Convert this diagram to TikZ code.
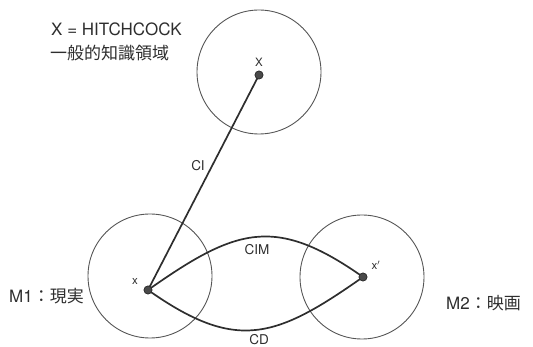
\documentclass[tikz,border=0pt]{standalone}
\usepackage{fontspec}
\setmainfont{TeX Gyre Heros}
\newfontfamily\cjk{Noto Sans CJK JP}
\definecolor{ink}{HTML}{2E2E2E}
\definecolor{ring}{HTML}{555555}
\definecolor{dotc}{HTML}{4A4A4A}
\begin{document}
\begin{tikzpicture}[x=1pt,y=-1pt,
  realm/.style={circle,draw=ring,line width=0.9pt,minimum size=124pt,inner sep=0pt},
  pt/.style={circle,fill=dotc,draw=ink,line width=0.6pt,minimum size=8pt,inner sep=0pt},
  link/.style={draw=ink,line width=1.7pt},
  biglabel/.style={text=ink,font=\fontsize{17}{20}\selectfont,inner sep=0pt},
  midlabel/.style={text=ink,font=\fontsize{13.5}{16}\selectfont,inner sep=0pt},
  smalllabel/.style={text=ink,font=\fontsize{11.5}{13}\selectfont,inner sep=0pt}]
\useasboundingbox (0,0) rectangle (533,347);
% realms
\node[realm] (C0) at (259,72) {};
\node[realm] (C1) at (150,276) {};
\node[realm] (C2) at (362,277) {};
% points
\node[pt] (X) at (259,75) {};
\node[pt] (A) at (148,290) {};
\node[pt] (B) at (363,277) {};
% connectors
\draw[link] (A.center) -- (X.center);
\draw[link] (A.center) .. controls (236,228) and (275,215) .. (B.center);
\draw[link] (A.center) .. controls (236,352) and (275,339) .. (B.center);
\node[pt] at (X) {};
\node[pt] at (A) {};
\node[pt] at (B) {};
% labels
\node[smalllabel] (lX) at (259,62) {X};
\node[smalllabel] (lA) at (135,281) {x};
\node[smalllabel] (lB) at (376,265) {x$'$};
\node[midlabel] (lCI) at (198,166) {CI};
\node[midlabel] (lCIM) at (257,250) {CIM};
\node[midlabel] (lCD) at (259,340) {CD};
\node[biglabel,anchor=west] (t1) at (51,29) {X = HITCHCOCK};
\node[biglabel,anchor=west] (t2) at (50,53) {\cjk 一般的知識領域};
\node[biglabel,anchor=west] (m1) at (9,296) {M1\cjk ：現実};
\node[biglabel,anchor=west] (m2) at (446,303) {M2\cjk ：映画};
\end{tikzpicture}
\end{document}
